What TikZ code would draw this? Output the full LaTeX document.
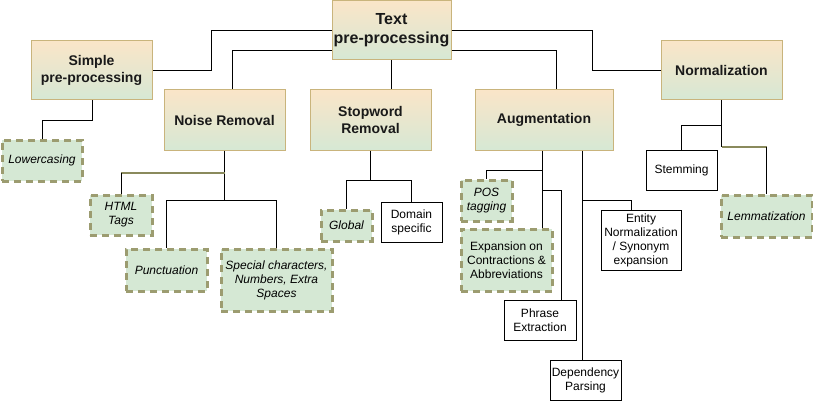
\documentclass[tikz,border=0pt]{standalone}
\usepackage{fontspec}
\setmainfont{Liberation Sans}
\usetikzlibrary{calc}
\definecolor{boxtop}{HTML}{FAE5C8}
\definecolor{boxbot}{HTML}{D6E8D4}
\definecolor{boxline}{HTML}{C9B47C}
\definecolor{dashfill}{HTML}{D5E8D4}
\definecolor{dashline}{HTML}{9C9C70}
\definecolor{olivecol}{HTML}{8A8A5C}
\begin{document}
\begin{tikzpicture}[x=1pt,y=-1pt,
  mainbox/.style={draw=boxline, line width=1pt, top color=boxtop, bottom color=boxbot, shading angle=0,
    inner sep=0pt, align=center, font=\bfseries\fontsize{14}{17}\selectfont, text=black!90},
  titlebox/.style={mainbox, font=\bfseries\fontsize{16}{19}\selectfont},
  dashbox/.style={draw=dashline, line width=3pt, dash pattern=on 7pt off 5pt, fill=dashfill,
    inner sep=0pt, align=center, font=\itshape\fontsize{12}{14}\selectfont},
  plainbox/.style={draw=black, line width=0.8pt, fill=white, inner sep=0pt, align=center,
    font=\fontsize{12}{14}\selectfont},
  conn/.style={draw=black, line width=0.8pt},
  oconn/.style={draw=olivecol, line width=1.2pt}
]
\useasboundingbox (0,0) rectangle (813,401);

% main boxes
\node[titlebox, minimum width=119pt, minimum height=59pt] (txt) at (391.5,30.5) {Text\\pre-processing};
\node[mainbox, minimum width=121pt, minimum height=59pt] (simple) at (91.5,70.5) {Simple\\pre-processing};
\node[mainbox, minimum width=121pt, minimum height=60pt] (noise) at (224.5,120) {Noise Removal};
\node[mainbox, minimum width=121pt, minimum height=60pt] (stop) at (370.5,120) {Stopword\\Removal};
\node[mainbox, minimum width=138pt, minimum height=60pt] (aug) at (544,120) {Augmentation};
\node[mainbox, minimum width=121pt, minimum height=59pt] (norm) at (721.5,70.5) {Normalization};

% dashed boxes
\node[dashbox, minimum width=80pt, minimum height=41pt] (lower) at (42,160.5) {Lowercasing};
\node[dashbox, minimum width=62pt, minimum height=40pt] (html) at (121,215) {HTML\\Tags};
\node[dashbox, minimum width=81pt, minimum height=42pt] (punct) at (166.5,270) {Punctuation};
\node[dashbox, minimum width=111pt, minimum height=62pt] (special) at (276.5,280) {Special characters,\\Numbers, Extra\\Spaces};
\node[dashbox, minimum width=51pt, minimum height=31pt] (global) at (346.5,225.5) {Global};
\node[dashbox, minimum width=51pt, minimum height=41pt] (pos) at (486.5,200.5) {POS\\tagging};
\node[dashbox, minimum width=91pt, minimum height=62pt, font=\fontsize{12}{14}\selectfont] (expansion) at (506.5,260) {Expansion on\\Contractions \&\\Abbreviations};
\node[dashbox, minimum width=91pt, minimum height=42pt] (lemma) at (766.5,216) {Lemmatization};

% plain boxes
\node[plainbox, minimum width=61pt, minimum height=40pt] (domain) at (411.5,222) {Domain\\specific};
\node[plainbox, minimum width=71pt, minimum height=40pt] (stem) at (681.5,170) {Stemming};
\node[plainbox, minimum width=72pt, minimum height=40pt] (phrase) at (540,320) {Phrase\\Extraction};
\node[plainbox, minimum width=71pt, minimum height=40pt] (dep) at (585.5,380) {Dependency\\Parsing};
\node[plainbox, minimum width=80pt, minimum height=60pt] (entity) at (641,240) {Entity\\Normalization\\/ Synonym\\expansion};

% connectors from the root
\draw[conn] (txt.west) -- ++(-120,0) |- (simple.east);
\draw[conn] (txt.west |- 0,50) -| ([xshift=7.5pt]noise.north);
\draw[conn] (txt.south) -- (txt.south |- stop.north);
\draw[conn] (txt.east) -- ++(141,0) |- (norm.west);
\draw[conn] (txt.east |- 0,50) -| ([xshift=12pt]aug.north);

% simple
\draw[conn] ([xshift=0.5pt]simple.south) -- ++(0,20) -| (lower.north);

% noise removal
\draw[conn] (noise.south) -- (noise.south |- 0,200);
\draw[oconn] (noise.south |- 0,173) -- (html.north |- 0,173);
\draw[conn] (html.north |- 0,173) -- (html.north);
\draw[conn] (punct.north) |- (special.north |- 0,200) -- (special.north);

% stopword removal
\draw[conn, line width=1.8pt] (stop.south) -- (stop.south |- 0,180);
\draw[conn] (global.north) |- (domain.north |- 0,180) -- (domain.north);

% augmentation
\coordinate (a1) at ([xshift=-2pt]aug.south);
\coordinate (a2) at ([xshift=38pt]aug.south);
\draw[conn] (a1) -- (a1 |- expansion.north);
\draw[conn] (a1 |- 0,170) -| (pos.north);
\draw[conn] (a1 |- 0,190) -| ([xshift=21pt]phrase.north);
\draw[conn] (a2) -- (a2 |- dep.north);
\draw[conn] (a2 |- 0,200) -| ([xshift=-10pt]entity.north);

% normalization
\draw[conn] (norm.south) -- (norm.south |- 0,147);
\draw[conn] (norm.south |- 0,125) -| (stem.north);
\draw[oconn] (norm.south |- 0,147) -- (lemma.north |- 0,147);
\draw[conn] (lemma.north |- 0,147) -- (lemma.north);
\end{tikzpicture}
\end{document}
